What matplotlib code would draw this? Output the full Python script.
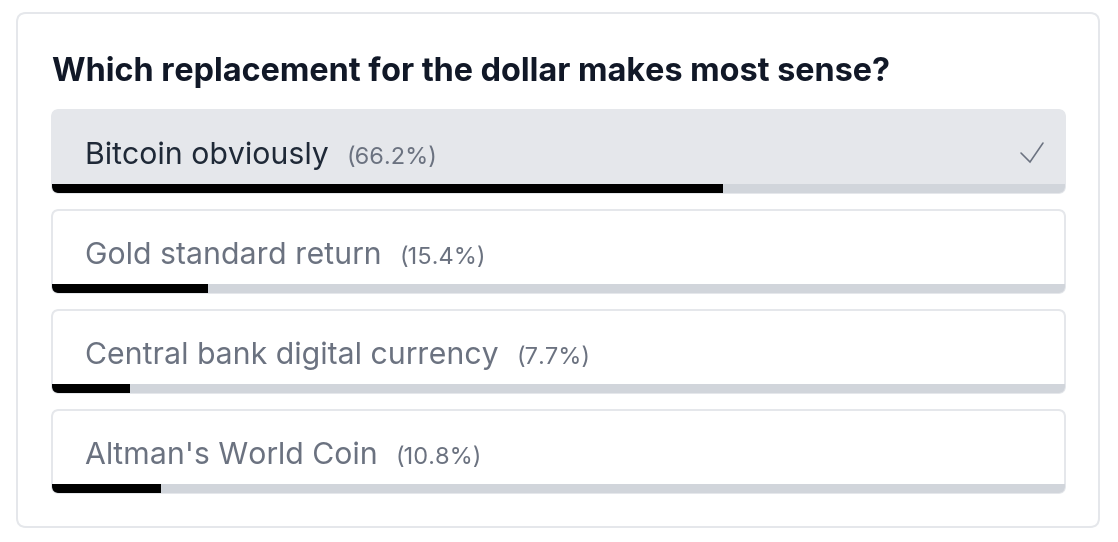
import matplotlib
matplotlib.use("Agg")
import matplotlib.pyplot as plt
from matplotlib.patches import FancyBboxPatch, Rectangle

plt.rcParams['font.family'] = ['Inter', 'DejaVu Sans']

# poll data
title = "Which replacement for the dollar makes most sense?"
options = ["Bitcoin obviously", "Gold standard return",
           "Central bank digital currency", "Altman's World Coin"]
percents = [66.2, 15.4, 7.7, 10.8]
selected = 0

W, H = 1118, 542
fig = plt.figure(figsize=(W / 100, H / 100), dpi=100)
ax = fig.add_axes([0, 0, 1, 1])
ax.set_xlim(0, W)
ax.set_ylim(H, 0)
ax.axis('off')

px = 0.72  # one pixel in points

# outer card
card = FancyBboxPatch((17, 13), 1082, 514, boxstyle="round,pad=0,rounding_size=9",
                      fc='white', ec='#e5e7eb', lw=2 * px)
ax.add_patch(card)

ax.text(52, 72, title, fontsize=23.3, fontweight='bold', color='#111827',
        va='center', ha='left')

x0, box_w = 52, 1013
top0, box_h, gap = 110, 83, 100
bar_h = 9

for i, (label, pct) in enumerate(zip(options, percents)):
    top = top0 + i * gap
    is_sel = i == selected
    box = FancyBboxPatch((x0, top), box_w, box_h, boxstyle="round,pad=0,rounding_size=7",
                         fc='#e5e7eb' if is_sel else 'white', ec='#e5e7eb', lw=2 * px)
    ax.add_patch(box)
    # progress track + fill, clipped to the rounded box
    track = Rectangle((x0, top + box_h - bar_h), box_w, bar_h, fc='#d1d5db', lw=0)
    ax.add_patch(track)
    track.set_clip_path(box)
    fill = Rectangle((x0, top + box_h - bar_h), box_w * pct / 100, bar_h, fc='black', lw=0)
    ax.add_patch(fill)
    fill.set_clip_path(box)

    cy = top + 46
    t = ax.text(85, cy, label, fontsize=21.8, color='#1f2937' if is_sel else '#6b7280',
                va='center', ha='left')
    fig.canvas.draw()
    bb = t.get_window_extent().transformed(ax.transData.inverted())
    ax.text(bb.x1 + 18, cy + 2, "(%.1f%%)" % pct, fontsize=17, color='#6b7280',
            va='center', ha='left')

    if is_sel:
        ax.plot([1021, 1030, 1043], [cy - 3, cy + 6, cy - 13], color='#6b7280',
                lw=1.6 * px, solid_capstyle='round', solid_joinstyle='miter')

fig.savefig("out.png", dpi=100)
